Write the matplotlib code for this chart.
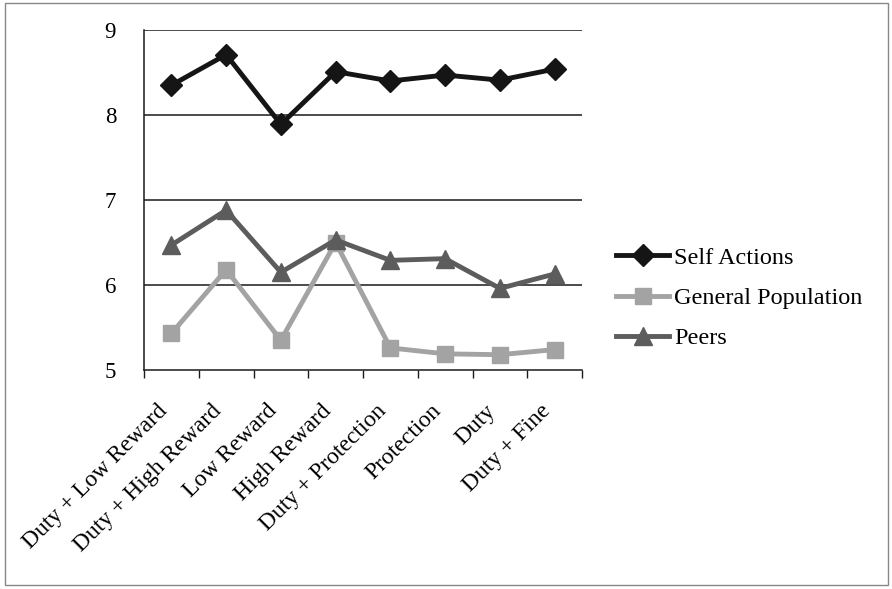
import numpy as np
import matplotlib.pyplot as plt
from matplotlib.patches import Rectangle

categories = ['Duty + Low Reward', 'Duty + High Reward', 'Low Reward', 'High Reward',
              'Duty + Protection', 'Protection', 'Duty', 'Duty + Fine']
self_actions = [8.35, 8.71, 7.89, 8.51, 8.40, 8.47, 8.41, 8.54]
general_population = [5.43, 6.18, 5.35, 6.50, 5.26, 5.19, 5.18, 5.24]
peers = [6.47, 6.88, 6.15, 6.53, 6.29, 6.31, 5.96, 6.13]

plt.rcParams['font.family'] = ['Liberation Serif', 'DejaVu Serif']

fig = plt.figure(figsize=(8.92, 5.89), dpi=100)
ax = fig.add_axes([144 / 892, 1 - 370 / 589, 438 / 892, 340 / 589])

x = np.arange(len(categories))
ax.plot(x, self_actions, color='#151515', lw=3.5, marker='D', ms=11.5, label='Self Actions')
ax.plot(x, general_population, color='#a3a3a3', lw=3.5, marker='s', ms=11.5, label='General Population')
ax.plot(x, peers, color='#5c5c5c', lw=3.5, marker='^', ms=12.5, label='Peers')

ax.set_xlim(-0.5, len(categories) - 0.5)
ax.set_ylim(5, 9)
ax.set_yticks([5, 6, 7, 8, 9])
for yv in [6, 7, 8, 9]:
    ax.axhline(yv, color='#1a1a1a', lw=1.1, zorder=0)

ax.set_xticks(x)
ax.set_xticklabels(categories, rotation=45, ha='right', va='top', fontsize=17)
ax.set_xticks(np.arange(-0.5, len(categories)), minor=True)
ax.tick_params(axis='x', which='major', length=0, pad=22)
ax.tick_params(axis='x', which='minor', length=6, width=1, direction='out', color='#1a1a1a')
ax.tick_params(axis='y', length=0, pad=20, labelsize=16.5)

for side in ['top', 'right']:
    ax.spines[side].set_visible(False)
for side in ['left', 'bottom']:
    ax.spines[side].set_color('#1a1a1a')
    ax.spines[side].set_linewidth(1.1)

fig.legend(loc='center left', bbox_to_anchor=(616 / 892, 1 - 298 / 589), frameon=False,
           fontsize=17.5, handlelength=2.2, handletextpad=0.2, labelspacing=0.75,
           borderpad=0, borderaxespad=0)

# thin frame round the whole figure
fig.patches.append(Rectangle((5 / 892, 4 / 589), 883 / 892, 582 / 589, transform=fig.transFigure,
                             fill=False, edgecolor='#888888', lw=1.0))

fig.savefig('out.png', dpi=100)
